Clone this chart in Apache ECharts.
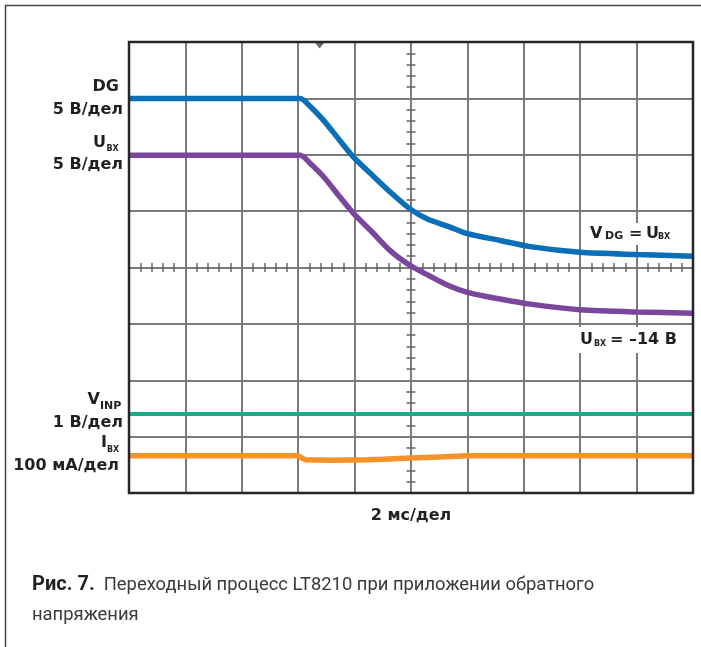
<!DOCTYPE html>
<html>
<head>
<meta charset="utf-8">
<script src="https://cdn.jsdelivr.net/npm/echarts@6/dist/echarts.min.js"></script>
<style>
  html, body { margin: 0; padding: 0; background: #ffffff; }
  #chart { width: 701px; height: 647px; }
</style>
</head>
<body>
<div id="chart"></div>
<script>
// ---- data (time in ms relative to screen centre, values in screen divisions) ----
const timeMs = [-10, -4.40, -3.92, -3.58, -3.10, -2.52, -2.04, -1.44, -0.74, -0.04, 0.62, 1.32, 2.00, 3.16, 4.22, 6.00, 8.00, 10.00];
const dgDiv  = [3.00, 3.00, 3.00, 2.86, 2.61, 2.25, 1.96, 1.67, 1.34, 1.04, 0.85, 0.73, 0.60, 0.48, 0.37, 0.27, 0.23, 0.20];
const uinDiv = [1.99, 1.99, 1.99, 1.85, 1.61, 1.25, 0.96, 0.66, 0.30, 0.04, -0.14, -0.32, -0.44, -0.56, -0.65, -0.75, -0.79, -0.81];
const vinpTime = [-10, 10];
const vinpDiv  = [-2.60, -2.60];
const iinTime = [-10, -4.00, -3.76, -2.80, -1.60, -1.00, 0.00, 1.00, 2.00, 10.00];
const iinDiv  = [-3.34, -3.34, -3.41, -3.42, -3.41, -3.40, -3.38, -3.36, -3.34, -3.34];
const triggerMs = -3.24;
const xMin = -10, xMax = 10, xStep = 2;   // 2 мс/дел
const yMin = -4, yMax = 4, yStep = 1;     // 8 divisions

const pairs = (xs, ys) => xs.map((x, i) => [x, ys[i]]);

const G = { left: 129, top: 42, width: 564, height: 451 };
const LBL = '#231f20';
const labelFont = 'bold 16px "DejaVu Sans"';
const subFont8 = 'bold 8px "DejaVu Sans"';
const subFont11 = 'bold 11px "DejaVu Sans"';

function axisCommon(pos, min, max, step, split) {
  return {
    type: 'value', min: min, max: max, interval: step, position: pos,
    axisLine: { show: true, onZero: true, onZeroAxisIndex: 0, lineStyle: { color: '#7a7a7a', width: 2 } },
    axisTick: { show: false },
    minorTick: { show: true, splitNumber: 5, length: 4.5, lineStyle: { color: '#666666', width: 1.5 } },
    axisLabel: { show: false },
    splitLine: split ? { show: true, showMinLine: false, showMaxLine: false, lineStyle: { color: '#7a7a7a', width: 2 } } : { show: false },
    minorSplitLine: { show: false }
  };
}

function txt(x, y, text, font, align, color) {
  return { type: 'text', z: 100, x: x, y: y,
    style: { text: text, font: font, textAlign: align || 'right', textVerticalAlign: 'middle', fill: color || LBL } };
}

const chart = echarts.init(document.getElementById('chart'), null, { renderer: 'canvas' });
chart.setOption({
  backgroundColor: '#ffffff',
  animation: false,
  grid: Object.assign({ show: false, containLabel: false, outerBoundsMode: 'none' }, G),
  xAxis: [axisCommon('bottom', xMin, xMax, xStep, true), axisCommon('top', xMin, xMax, xStep, false)],
  yAxis: [axisCommon('left', yMin, yMax, yStep, true), axisCommon('right', yMin, yMax, yStep, false)],
  series: [
    { name: 'VINP', type: 'line', data: pairs(vinpTime, vinpDiv), showSymbol: false, z: 3,
      lineStyle: { color: '#15ad88', width: 4 } },
    { name: 'IВХ', type: 'line', data: pairs(iinTime, iinDiv), showSymbol: false, z: 3,
      lineStyle: { color: '#f5922a', width: 5.5 } },
    { name: 'UВХ', type: 'line', data: pairs(timeMs, uinDiv), showSymbol: false, z: 3,
      smooth: 0.25,
      lineStyle: { color: '#7a479c', width: 5.5 } },
    { name: 'DG', type: 'line', data: pairs(timeMs, dgDiv), showSymbol: false, z: 3,
      smooth: 0.25,
      lineStyle: { color: '#0b6fb8', width: 5.5 },
      markPoint: { silent: true, symbol: 'triangle', symbolRotate: 180, symbolSize: [11, 7], symbolOffset: [0, 3],
        itemStyle: { color: '#6a6a6a' }, label: { show: false },
        data: [{ coord: [triggerMs, yMax] }] } }
  ],
  graphic: [
    // outer frame of the figure
    { type: 'line', z: 100, shape: { x1: 5, y1: 5.5, x2: 701, y2: 5.5 }, style: { stroke: '#444', lineWidth: 1.5 } },
    { type: 'line', z: 100, shape: { x1: 5.5, y1: 5, x2: 5.5, y2: 647 }, style: { stroke: '#444', lineWidth: 1.5 } },
    // plot border
    { type: 'rect', z: 90, shape: { x: G.left, y: G.top, width: G.width, height: G.height },
      style: { fill: null, stroke: '#262626', lineWidth: 2.5 } },
    // white boxes behind annotations
    { type: 'rect', z: 95, shape: { x: 586, y: 223, width: 86, height: 22 }, style: { fill: '#fff' } },
    { type: 'rect', z: 95, shape: { x: 576, y: 327, width: 106, height: 26 }, style: { fill: '#fff' } },
    // left labels
    txt(119, 86.5, 'DG', labelFont),
    txt(123, 109.5, '5 В/дел', labelFont),
    txt(106, 142.5, 'U', labelFont),
    txt(106.5, 148.5, 'ВХ', subFont8, 'left'),
    txt(123, 164.5, '5 В/дел', labelFont),
    txt(100, 399.5, 'V', labelFont),
    txt(100, 406.5, 'INP', subFont11, 'left'),
    txt(123, 422.5, '1 В/дел', labelFont),
    txt(107, 442.5, 'I', labelFont),
    txt(107, 449.5, 'ВХ', subFont8, 'left'),
    txt(119, 466, '100 мА/дел', labelFont),
    // right annotations
    txt(590, 234, 'V', labelFont, 'left'),
    txt(605, 236.5, 'DG', subFont11, 'left'),
    txt(629, 234, '=', labelFont, 'left'),
    txt(646, 234, 'U', labelFont, 'left'),
    txt(658, 237, 'ВХ', subFont8, 'left'),
    txt(580, 340, 'U', labelFont, 'left'),
    txt(594, 343.5, 'ВХ', subFont8, 'left'),
    txt(610, 340, '= –14 В', labelFont, 'left'),
    // x scale label
    txt(411, 515.5, '2 мс/дел', labelFont, 'center'),
    // caption
    { type: 'text', z: 100, x: 32, y: 585,
      style: { text: '{b|Рис. 7.}{r|Переходный процесс LT8210 при приложении обратного}',
        textVerticalAlign: 'middle', textAlign: 'left',
        rich: { b: { font: 'bold 20px Roboto', fill: '#231f20', padding: [0, 9, 0, 0] },
                r: { font: '18.4px Roboto', fill: '#3a3a3a' } } } },
    { type: 'text', z: 100, x: 32, y: 615,
      style: { text: 'напряжения', font: '18.4px Roboto', fill: '#3a3a3a', textVerticalAlign: 'middle', textAlign: 'left' } }
  ]
});
</script>
</body>
</html>
